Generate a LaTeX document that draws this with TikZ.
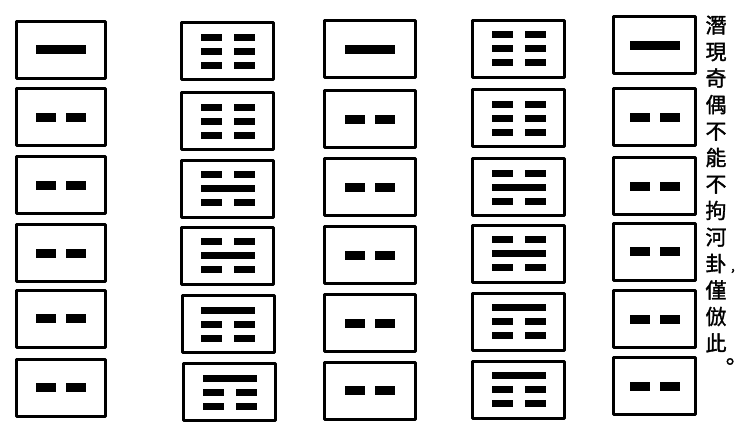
\documentclass[tikz,border=0pt]{standalone}
\usepackage{fontspec}
\newfontfamily\cjk[FakeBold=1.5]{Noto Sans CJK TC}

\newcommand{\yangmark}{\rule{50pt}{9pt}}
\newcommand{\yinmark}{\rule{20pt}{9pt}\hspace{10pt}\rule{20pt}{9pt}}
\newcommand{\yangrow}{\rule{54pt}{7pt}}
\newcommand{\yinrow}{\rule{21pt}{7pt}\hspace{12pt}\rule{21pt}{7pt}}
\newcommand{\kungua}{\yinrow\\\yinrow\\\yinrow}
\newcommand{\kangua}{\yinrow\\\yangrow\\\yinrow}
\newcommand{\gengua}{\yangrow\\\yinrow\\\yinrow}

\begin{document}
\begin{tikzpicture}[x=1pt,y=-1pt,line join=round,
    guabox/.style={draw,line width=3pt,inner sep=0pt,minimum width=91pt,
      minimum height=57pt,align=center,font=\fontsize{2}{14}\selectfont},
    narrowbox/.style={guabox,minimum width=82pt},
    cjktext/.style={inner sep=0pt,align=center}]
  \useasboundingbox (0,0) rectangle (744,423);

  \node[guabox,minimum width=89pt] (a1) at (61,49.5) {\yangmark};
  \node[guabox,minimum width=89pt] (a2) at (61,117) {\yinmark};
  \node[guabox,minimum width=89pt] (a3) at (61,185) {\yinmark};
  \node[guabox,minimum width=89pt] (a4) at (61,253) {\yinmark};
  \node[guabox,minimum width=89pt] (a5) at (61,318.5) {\yinmark};
  \node[guabox,minimum width=89pt] (a6) at (61,387.5) {\yinmark};

  \node[guabox,minimum width=92pt] (b1) at (227.5,51) {\kungua};
  \node[guabox,minimum width=92pt] (b2) at (227.5,121) {\kungua};
  \node[guabox,minimum width=92pt] (b3) at (227.5,188.5) {\kangua};
  \node[guabox,minimum width=92pt] (b4) at (227.5,255.5) {\kangua};
  \node[guabox,minimum width=92pt] (b5) at (228,324) {\gengua};
  \node[guabox,minimum width=92pt] (b6) at (229.5,392) {\gengua};

  \node[guabox] (c1) at (370,49) {\yangmark};
  \node[guabox] (c2) at (370,119) {\yinmark};
  \node[guabox] (c3) at (370,187) {\yinmark};
  \node[guabox] (c4) at (370,255) {\yinmark};
  \node[guabox] (c5) at (370,323) {\yinmark};
  \node[guabox] (c6) at (370,390.5) {\yinmark};

  \node[guabox,minimum width=92pt] (d1) at (518.5,48.5) {\kungua};
  \node[guabox,minimum width=92pt] (d2) at (518.5,118) {\kungua};
  \node[guabox,minimum width=92pt] (d3) at (518.5,187) {\kangua};
  \node[guabox,minimum width=92pt] (d4) at (518.5,253.5) {\kangua};
  \node[guabox,minimum width=92pt] (d5) at (518.5,321.5) {\gengua};
  \node[guabox,minimum width=92pt] (d6) at (518.5,389.5) {\gengua};

  \node[narrowbox] (e1) at (654.5,45) {\yangmark};
  \node[narrowbox] (e2) at (654.5,117) {\yinmark};
  \node[narrowbox] (e3) at (654.5,186) {\yinmark};
  \node[narrowbox] (e4) at (654.5,251.5) {\yinmark};
  \node[narrowbox] (e5) at (654.5,319) {\yinmark};
  \node[narrowbox] (e6) at (654.5,386) {\yinmark};

  \node[cjktext,font=\cjk\fontsize{21}{26.5}\selectfont] (note) at (716,184)
    {潛\\現\\奇\\偶\\不\\能\\不\\拘\\河\\卦\\僅\\倣\\此};
  \node[cjktext,font=\cjk\fontsize{12}{12}\selectfont] (comma) at (733,272) {，};
  \node[cjktext,font=\cjk\fontsize{22}{22}\selectfont] (stop) at (730,364) {。};
\end{tikzpicture}
\end{document}
